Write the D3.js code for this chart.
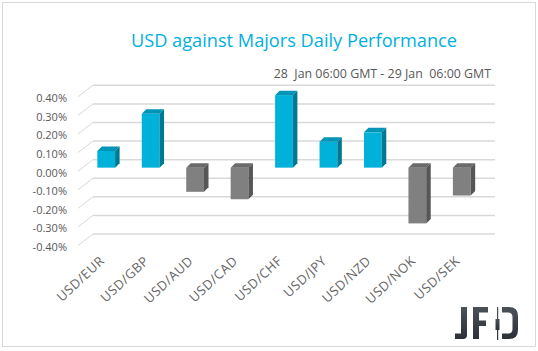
<html>

<head>
    <meta charset="utf-8">
    <script src="https://d3js.org/d3.v7.min.js"></script>
    <style>
        body {
            margin: 0;
            background: #fff;
        }

        text {
            font-family: "Open Sans", sans-serif;
        }
    </style>
</head>

<body>
    <svg height="351" width="538" id="fxSvg"></svg>
    <script>
        // data
        const pairs = ["USD/EUR", "USD/GBP", "USD/AUD", "USD/CAD", "USD/CHF", "USD/JPY", "USD/NZD", "USD/NOK", "USD/SEK"];
        const changes = [0.09, 0.29, -0.13, -0.17, 0.39, 0.14, 0.19, -0.30, -0.15];
        const yTicks = [0.4, 0.3, 0.2, 0.1, 0, -0.1, -0.2, -0.3, -0.4];

        const svg = d3.select("#fxSvg");

        // frame
        svg.append("rect")
            .attr("x", 2.5).attr("y", 2.5)
            .attr("width", 533).attr("height", 344)
            .attr("fill", "white")
            .attr("stroke", "#d9d9d9");

        svg.append("text")
            .attr("x", 294).attr("y", 47)
            .attr("text-anchor", "middle")
            .style("font-size", "18.2px")
            .style("fill", "#00b0e0")
            .text("USD against Majors Daily Performance");

        svg.append("text")
            .attr("x", 491).attr("y", 78)
            .attr("text-anchor", "end")
            .attr("xml:space", "preserve")
            .style("white-space", "pre")
            .style("font-size", "12.4px")
            .style("fill", "#595959")
            .text("28  Jan 06:00 GMT - 29 Jan  06:00 GMT");

        // back wall scale, bars sit a bit in front of it
        const yWall = d3.scaleLinear().domain([-0.4, 0.4]).range([234, 85.3]);
        const barShift = 8;
        const yBar = v => yWall(v) + barShift;

        const xScale = d3.scaleBand().domain(pairs)
            .range([84, 484])
            .paddingInner(0.6)
            .paddingOuter(0.3);

        // gridlines: back wall line plus the diagonal side edge
        const grid = svg.append("g").attr("class", "gridlines");
        grid.selectAll("line.wall").data(yTicks)
            .join("line")
            .attr("class", "wall")
            .attr("x1", 93).attr("x2", 495)
            .attr("y1", d => yWall(d)).attr("y2", d => yWall(d))
            .attr("stroke", "#d9d9d9")
            .attr("stroke-width", 1.5);
        grid.selectAll("line.side").data(yTicks)
            .join("line")
            .attr("class", "side")
            .attr("x1", 78).attr("x2", 93)
            .attr("y1", d => yWall(d) + 11.5).attr("y2", d => yWall(d))
            .attr("stroke", "#d9d9d9")
            .attr("stroke-width", 1);

        const pct = d => d3.format(".2f")(d).replace("−", "-") + "%";
        svg.append("g").selectAll("text").data(yTicks)
            .join("text")
            .attr("x", 67)
            .attr("y", d => yWall(d) + 13)
            .attr("dy", "0.35em")
            .attr("text-anchor", "end")
            .style("font-size", "11px")
            .style("fill", "#595959")
            .text(pct);

        // 3D columns
        const depthX = 4.5, depthY = -4.5;
        const palette = {
            up: { front: "#00b2da", top: "#0094b6", side: "#007891" },
            down: { front: "#808080", top: "#6a6a6a", side: "#565656" }
        };
        const bars = pairs.map((p, i) => ({ pair: p, value: changes[i] }));

        svg.append("g").selectAll("g").data(bars)
            .join("g")
            .each(function (d) {
                const g = d3.select(this);
                const c = d.value >= 0 ? palette.up : palette.down;
                const x = xScale(d.pair);
                const w = xScale.bandwidth();
                const yTop = Math.min(yBar(d.value), yBar(0));
                const yBot = Math.max(yBar(d.value), yBar(0));

                g.append("rect")
                    .attr("x", x).attr("y", yTop)
                    .attr("width", w).attr("height", yBot - yTop)
                    .attr("fill", c.front);

                g.append("path")
                    .attr("d", `M${x},${yTop}L${x + depthX},${yTop + depthY}L${x + w + depthX},${yTop + depthY}L${x + w},${yTop}Z`)
                    .attr("fill", c.top);

                g.append("path")
                    .attr("d", `M${x + w},${yTop}L${x + w + depthX},${yTop + depthY}L${x + w + depthX},${yBot + depthY}L${x + w},${yBot}Z`)
                    .attr("fill", c.side);
            });

        // category labels
        svg.append("g").selectAll("text").data(pairs)
            .join("text")
            .attr("text-anchor", "end")
            .attr("transform", d => `translate(${xScale(d) + xScale.bandwidth() / 2 - 1},${262}) rotate(-43)`)
            .style("font-size", "13px")
            .style("letter-spacing", "0.5px")
            .style("fill", "#666")
            .text(d => d);

        // JFD logo
        const defs = svg.append("defs");
        const grad = defs.append("linearGradient")
            .attr("id", "logoGrad")
            .attr("x1", 0).attr("y1", 0).attr("x2", 0).attr("y2", 1);
        grad.append("stop").attr("offset", "0%").attr("stop-color", "#4b5159");
        grad.append("stop").attr("offset", "100%").attr("stop-color", "#2c3137");

        const logo = svg.append("g").attr("fill", "url(#logoGrad)");
        logo.append("path")
            .attr("d", "M461,307H467V335Q467,339 463,339H455V333.5H461Z");
        logo.append("path")
            .attr("d", "M473,307H488V312.5H479V320.5H486V326H479V339H473Z");
        logo.append("rect")
            .attr("x", 497).attr("y", 307).attr("width", 1.2).attr("height", 33);
        logo.append("rect")
            .attr("x", 495.5).attr("y", 319).attr("width", 4).attr("height", 11);
        logo.append("path")
            .attr("d", "M502,307H509Q518,307 518,316V330Q518,339 509,339H502V333.5H508Q512.5,333.5 512.5,329V317Q512.5,312.5 508,312.5H502Z");
    </script>
</body>

</html>
